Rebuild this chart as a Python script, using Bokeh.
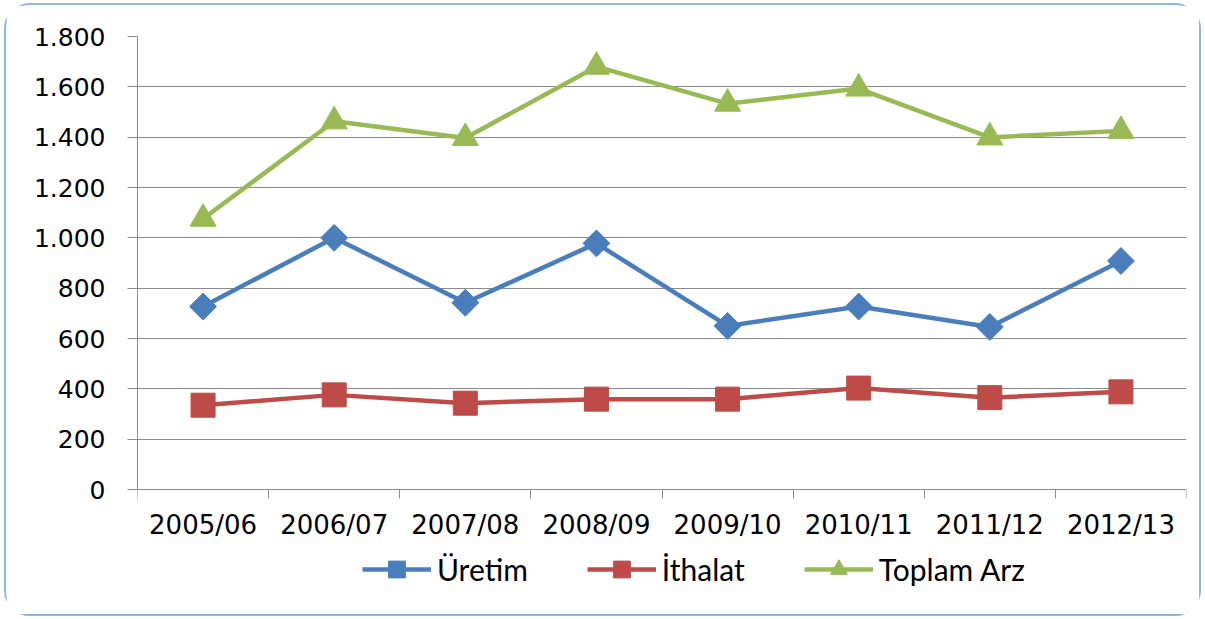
import numpy as np
from bokeh.plotting import figure
from bokeh.models import (Range1d, FixedTicker, Legend, LegendItem, ColumnDataSource)
from bokeh.embed import file_html
from bokeh.resources import INLINE

categories = ["2005/06", "2006/07", "2007/08", "2008/09", "2009/10", "2010/11", "2011/12", "2012/13"]
uretim = [727, 1000, 742, 978, 650, 727, 646, 908]
ithalat = [335, 376, 343, 359, 359, 403, 365, 388]
toplam_arz = [1076, 1463, 1397, 1680, 1533, 1593, 1399, 1425]
series_names = ["Üretim", "İthalat", "Toplam Arz"]
y_ticks = [0, 200, 400, 600, 800, 1000, 1200, 1400, 1600, 1800]
y_tick_labels = ["0", "200", "400", "600", "800", "1.000", "1.200", "1.400", "1.600", "1.800"]

n = len(categories)
x_centers = [i + 0.5 for i in range(n)]
x_bounds = list(range(n + 1))

# plotted band 0..1800 spans band_px; the frame continues below it to hold
# the x axis labels and the legend (x axis is pinned at y = 0)
fig_w, fig_h = 1197, 613
top_px = 31
band_px = 453
y_top = 1800
below_px = fig_h - top_px - band_px
y_bottom = -y_top * below_px / band_px

p = figure(width=fig_w, height=fig_h, output_backend="svg", toolbar_location=None,
           x_range=Range1d(0, n), y_range=Range1d(y_bottom, y_top),
           min_border_left=131, min_border_right=17, min_border_top=top_px, min_border_bottom=0)
p.styles = {"border": "2px solid #8EB4E3", "border-radius": "26px",
            "box-sizing": "border-box", "margin": "3px 0 0 4px"}
p.outline_line_color = None
p.background_fill_color = "white"
p.border_fill_color = "white"

grid_color = "#8C8C8C"
label_font = "DejaVu Sans"

# y axis
p.yaxis.ticker = FixedTicker(ticks=y_ticks)
p.yaxis.bounds = (0, y_top)
p.yaxis.major_label_overrides = {t: l for t, l in zip(y_ticks, y_tick_labels)}
p.yaxis.axis_line_color = grid_color
p.yaxis.major_tick_line_color = grid_color
p.yaxis.major_tick_out = 10
p.yaxis.major_tick_in = 0
p.yaxis.minor_tick_line_color = None
p.yaxis.major_label_standoff = 22
p.yaxis.major_label_text_font = label_font
p.yaxis.major_label_text_font_size = "25px"
p.yaxis.major_label_text_color = "black"

# x axis: labels at category centres, ticks at category boundaries
p.xaxis.fixed_location = 0
p.xaxis.ticker = FixedTicker(ticks=x_centers, minor_ticks=x_bounds)
p.xaxis.major_label_overrides = {c: l for c, l in zip(x_centers, categories)}
p.xaxis.axis_line_color = grid_color
p.xaxis.major_tick_line_color = None
p.xaxis.major_tick_out = 0
p.xaxis.major_tick_in = 0
p.xaxis.minor_tick_line_color = grid_color
p.xaxis.minor_tick_out = 9
p.xaxis.minor_tick_in = 0
p.xaxis.major_label_standoff = 11
p.xaxis.major_label_text_font = label_font
p.xaxis.major_label_text_font_size = "26px"
p.xaxis.major_label_text_color = "black"

p.xgrid.visible = False
p.ygrid.ticker = FixedTicker(ticks=y_ticks)
p.ygrid.grid_line_color = grid_color
p.ygrid.grid_line_width = 1

colors = ["#4A7EBB", "#BE4B48", "#98B954"]
markers = ["square", "square", "triangle"]
angles = [np.pi / 4, 0, 0]
sizes = [19, 24, 26]
data = [uretim, ithalat, toplam_arz]

items = []
for name, vals, col, mk, ang, sz in zip(series_names, data, colors, markers, angles, sizes):
    src = ColumnDataSource(dict(x=x_centers, y=vals))
    r1 = p.line("x", "y", source=src, line_color=col, line_width=4.5)
    r2 = p.scatter("x", "y", source=src, marker=mk, size=sz, angle=ang,
                   fill_color=col, line_color=col)
    items.append(LegendItem(label=name, renderers=[r1, r2]))

legend = Legend(items=items, orientation="horizontal", location=(225, 28),
                glyph_width=69, glyph_height=42, label_standoff=6, spacing=59,
                padding=0, margin=0, border_line_color=None, background_fill_alpha=0,
                label_text_font="Lato", label_text_font_size="30px", label_text_color="black")
p.add_layout(legend, "center")

open("out.html", "w").write(file_html(p, INLINE))
